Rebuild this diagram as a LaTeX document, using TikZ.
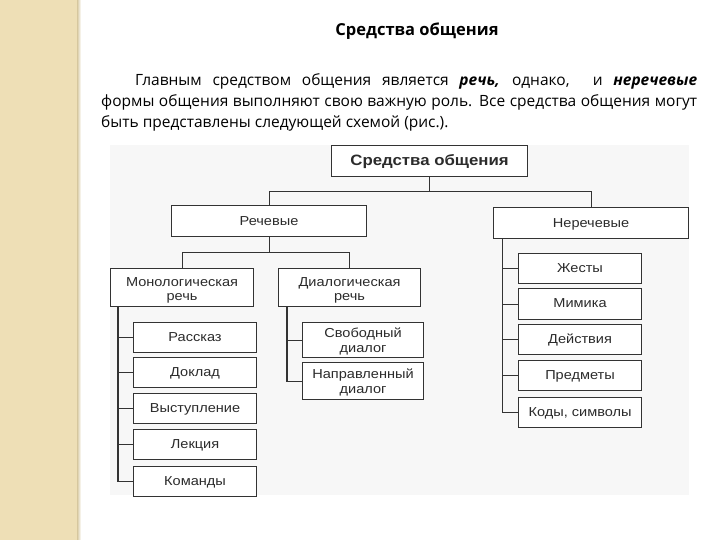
\documentclass[tikz,border=0pt]{standalone}
\usepackage{fontspec}
\setmainfont{Open Sans}
\newfontfamily\diag[FakeStretch=1.12]{Liberation Sans}
\usetikzlibrary{calc}
\definecolor{strip}{HTML}{EEDFB6}
\definecolor{stripedge}{HTML}{D6C79E}
\definecolor{diagbg}{HTML}{F7F7F7}
\definecolor{linec}{HTML}{333333}
\definecolor{textc}{HTML}{2B2B2B}
\newcommand\lowtxt[2]{\raisebox{-#1}[\height][\depth]{\begin{tabular}{@{}c@{}}#2\end{tabular}}}
\tikzset{
  box/.style={draw=linec, line width=1.1pt, fill=white, inner sep=0pt,
    font=\diag\fontsize{13}{14.5}\selectfont, text=textc, anchor=north west},
  conn/.style={draw=linec, line width=1.1pt},
  para/.style={anchor=base west, inner sep=0pt, font=\fontsize{15.5}{20}\selectfont}
}
\begin{document}
\begin{tikzpicture}[x=1pt,y=-1pt]
\useasboundingbox (0,0) rectangle (720,540);
\fill[white] (0,0) rectangle (720,540);
% left strip
\fill[strip] (0,0) rectangle (77,540);
\shade[left color=stripedge, right color=white] (77,0) rectangle (81,540);
% heading and paragraph
\node[font=\fontsize{16.5}{20}\selectfont\bfseries] (title) at (417,31) {Средства общения};
\node[para] (l1) at (135,86) {\makebox[562pt][s]{Главным средством общения является \textbf{\textit{речь,}} однако, \ и \textbf{\textit{неречевые}}}};
\node[para] (l2) at (101,107) {\makebox[596pt][s]{формы общения выполняют свою важную роль. Все средства общения могут}};
\node[para] (l3) at (101,128) {быть представлены следующей схемой (рис.).};
% diagram background
\fill[diagbg] (110,145) rectangle (689,495);
% nodes
\node[box, minimum width=196pt, minimum height=31pt, font=\diag\fontsize{15}{16}\selectfont\bfseries] (root) at (331,145) {\lowtxt{1pt}{Средства общения}};
\node[box, minimum width=195pt, minimum height=31pt] (rech) at (171,205) {\lowtxt{1.5pt}{Речевые}};
\node[box, minimum width=195pt, minimum height=31pt] (nerech) at (493,207) {\lowtxt{1.5pt}{Неречевые}};
\node[box, minimum width=143pt, minimum height=38pt] (mono) at (110,268) {\lowtxt{3pt}{Монологическая\\речь}};
\node[box, minimum width=142pt, minimum height=38pt] (dial) at (278,268) {\lowtxt{3pt}{Диалогическая\\речь}};
% monolog children
\node[box, minimum width=123pt, minimum height=30pt] (m1) at (133,322) {\lowtxt{1pt}{Рассказ}};
\node[box, minimum width=123pt, minimum height=30pt] (m2) at (133,357) {\lowtxt{1pt}{Доклад}};
\node[box, minimum width=123pt, minimum height=30pt] (m3) at (133,393) {\lowtxt{1pt}{Выступление}};
\node[box, minimum width=123pt, minimum height=30pt] (m4) at (133,429) {\lowtxt{1pt}{Лекция}};
\node[box, minimum width=123pt, minimum height=30pt] (m5) at (133,466) {\lowtxt{1pt}{Команды}};
% dialog children
\node[box, minimum width=121pt, minimum height=35pt] (d1) at (302,322) {\lowtxt{2pt}{Свободный\\диалог}};
\node[box, minimum width=121pt, minimum height=37pt] (d2) at (302,362) {\lowtxt{2pt}{Направленный\\диалог}};
% nonverbal children
\node[box, minimum width=123pt, minimum height=30pt] (n1) at (518,253) {\lowtxt{1pt}{Жесты}};
\node[box, minimum width=123pt, minimum height=31pt] (n2) at (518,288) {\lowtxt{1pt}{Мимика}};
\node[box, minimum width=123pt, minimum height=30pt] (n3) at (518,324) {\lowtxt{1pt}{Действия}};
\node[box, minimum width=123pt, minimum height=30pt] (n4) at (518,360) {\lowtxt{1pt}{Предметы}};
\node[box, minimum width=123pt, minimum height=30pt] (n5) at (518,397) {\lowtxt{1pt}{Коды, символы}};
% connectors
\coordinate (j1) at ($(root.south)+(0,14)$);
\draw[conn] (root.south) -- (j1);
\draw[conn] (rech.north) |- (j1) -| (nerech.north);
\coordinate (j2) at ($(rech.south)+(0,15)$);
\draw[conn] (rech.south) -- (j2);
\draw[conn] (mono.north) |- (j2) -| (dial.north);
% monolog trunk
\coordinate (mt) at ($(mono.south west)+(8,0)$);
\draw[conn] (mt) |- (m5.west);
\foreach \c in {m1,m2,m3,m4} \draw[conn] (\c.west) -- (\c.west -| mt);
% dialog trunk
\coordinate (dt) at ($(dial.south west)+(9,0)$);
\draw[conn] (dt) |- (d2.west);
\draw[conn] (d1.west) -- (d1.west -| dt);
% nonverbal trunk
\coordinate (nt) at ($(nerech.south west)+(9.5,0)$);
\draw[conn] (nt) |- (n5.west);
\foreach \c in {n1,n2,n3,n4} \draw[conn] (\c.west) -- (\c.west -| nt);
\end{tikzpicture}
\end{document}
